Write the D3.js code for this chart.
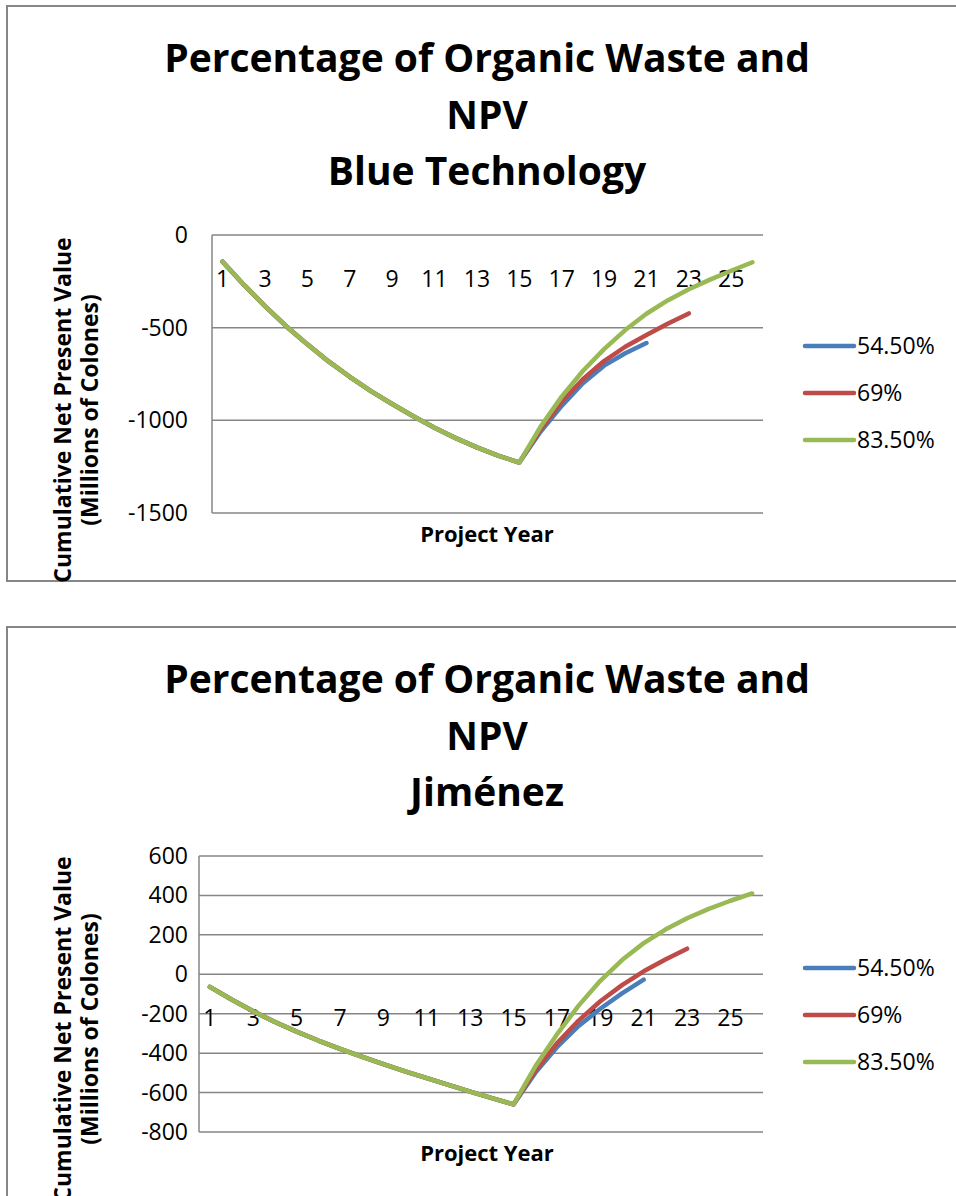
<!DOCTYPE html>
<html>
<head>
<meta charset="utf-8">
<script src="https://cdn.jsdelivr.net/npm/d3@7"></script>
<style>
  html, body { margin: 0; padding: 0; background: #fff; }
  svg { display: block; font-family: "Open Sans", Lato, sans-serif; }
</style>
</head>
<body>
<div id="chart"></div>
<script>
// categories (project years) and shown tick labels
const years = [1, 2, 3, 4, 5, 6, 7, 8, 9, 10, 11, 12, 13, 14, 15, 16, 17, 18, 19, 20, 21, 22, 23, 24, 25, 26];
const yearTicks = [1, 3, 5, 7, 9, 11, 13, 15, 17, 19, 21, 23, 25];
const seriesNames = ['54.50%', '69%', '83.50%'];

// Blue Technology (millions of colones)
const blue545 = [-144, -268, -384, -492, -590, -682, -765, -842, -912, -978, -1040, -1096, -1146, -1190, -1228,
  -1062, -922, -800, -705, -638, -583];
const blue69 = [-144, -268, -384, -492, -590, -682, -765, -842, -912, -978, -1040, -1096, -1146, -1190, -1228,
  -1050, -900, -778, -680, -603, -540, -479, -423];
const blue835 = [-144, -268, -384, -492, -590, -682, -765, -842, -912, -978, -1040, -1096, -1146, -1190, -1228,
  -1035, -872, -734, -616, -513, -425, -353, -293, -241, -193, -147];
const blueTicks = [0, -500, -1000, -1500];

// Jiménez (millions of colones)
const jim545 = [-64, -128, -188, -242, -291, -336, -378, -418, -456, -492, -527, -561, -595, -628, -660,
  -500, -370, -262, -175, -97, -27];
const jim69 = [-64, -128, -188, -242, -291, -336, -378, -418, -456, -492, -527, -561, -595, -628, -660,
  -490, -350, -235, -137, -55, 15, 75, 130];
const jim835 = [-64, -128, -188, -242, -291, -336, -378, -418, -456, -492, -527, -561, -595, -628, -660,
  -468, -305, -159, -33, 72, 158, 227, 284, 332, 373, 410];
const jimTicks = [600, 400, 200, 0, -200, -400, -600, -800];

const colors = ['#4a7ebb', '#be4b48', '#98b954'];
const gridColor = '#868686';

const svg = d3.select('#chart')
  .append('svg')
  .attr('width', 956)
  .attr('height', 1196);

function drawChart(top, cfg) {
  const g = svg.append('g').attr('transform', `translate(0,${top})`);

  // outer chart frame
  g.append('rect')
    .attr('x', 7).attr('y', 6)
    .attr('width', 1000).attr('height', cfg.frameH)
    .attr('fill', 'none')
    .attr('stroke', gridColor)
    .attr('stroke-width', 2);

  // title
  const title = g.append('text')
    .attr('text-anchor', 'middle')
    .attr('font-size', 39)
    .attr('font-weight', 'bold')
    .attr('fill', '#000');
  cfg.title.forEach((t, i) => {
    title.append('tspan').attr('x', 487).attr('y', 72 + i * 56.5).text(t);
  });

  const x = d3.scaleBand()
    .domain(years)
    .range([cfg.left, 763]);

  const y = d3.scaleLinear()
    .domain(cfg.domain)
    .range([cfg.bottom, cfg.top]);

  // horizontal gridlines
  g.append('g')
    .selectAll('line')
    .data(cfg.ticks)
    .join('line')
    .attr('x1', cfg.left).attr('x2', 763)
    .attr('y1', d => y(d)).attr('y2', d => y(d))
    .attr('stroke', gridColor)
    .attr('stroke-width', 1.5);

  // value axis line
  g.append('line')
    .attr('x1', cfg.left).attr('x2', cfg.left)
    .attr('y1', cfg.top).attr('y2', cfg.bottom)
    .attr('stroke', gridColor)
    .attr('stroke-width', 1.5);

  // y tick labels
  g.append('g')
    .selectAll('text')
    .data(cfg.ticks)
    .join('text')
    .attr('x', 188)
    .attr('y', d => y(d) + 8)
    .attr('text-anchor', 'end')
    .attr('font-size', 23)
    .text(d => d);

  // x tick labels (axis crosses at 0)
  g.append('g')
    .selectAll('text')
    .data(yearTicks)
    .join('text')
    .attr('x', d => x(d) + x.bandwidth() / 2)
    .attr('y', y(0) + 52)
    .attr('text-anchor', 'middle')
    .attr('font-size', 23)
    .text(d => d);

  // series lines
  const line = d3.line()
    .x((d, i) => x(years[i]) + x.bandwidth() / 2)
    .y(d => y(d));

  cfg.series.forEach((s, i) => {
    g.append('path')
      .datum(s)
      .attr('fill', 'none')
      .attr('stroke', colors[i])
      .attr('stroke-width', 4.5)
      .attr('stroke-linecap', 'round')
      .attr('stroke-linejoin', 'round')
      .attr('d', line);
  });

  // axis titles
  g.append('text')
    .attr('x', 487)
    .attr('y', cfg.bottom + 29)
    .attr('text-anchor', 'middle')
    .attr('font-size', 22)
    .attr('font-weight', 'bold')
    .text('Project Year');

  const ytitle = g.append('text')
    .attr('transform', `translate(0,${cfg.ytitleY}) rotate(-90)`)
    .attr('text-anchor', 'middle')
    .attr('font-size', 23)
    .attr('font-weight', 'bold');
  ytitle.append('tspan').attr('x', 0).attr('y', 71).text('Cumulative Net Present Value');
  ytitle.append('tspan').attr('x', 0).attr('y', 98).text('(Millions of Colones)');

  // legend
  const legend = g.append('g')
    .selectAll('g')
    .data(seriesNames)
    .join('g')
    .attr('transform', (d, i) => `translate(0,${cfg.legendY + i * 47})`);
  legend.append('line')
    .attr('x1', 805).attr('x2', 854)
    .attr('stroke', (d, i) => colors[i])
    .attr('stroke-width', 4.5)
    .attr('stroke-linecap', 'round');
  legend.append('text')
    .attr('x', 857)
    .attr('y', 8)
    .attr('font-size', 23)
    .text(d => d);
}

drawChart(0, {
  title: ['Percentage of Organic Waste and', 'NPV', 'Blue Technology'],
  frameH: 575,
  left: 212, top: 235, bottom: 513,
  domain: [-1500, 0],
  ticks: blueTicks,
  series: [blue545, blue69, blue835],
  ytitleY: 410,
  legendY: 346
});

drawChart(621, {
  title: ['Percentage of Organic Waste and', 'NPV', 'Jiménez'],
  frameH: 700,
  left: 199, top: 235, bottom: 511,
  domain: [-800, 600],
  ticks: jimTicks,
  series: [jim545, jim69, jim835],
  ytitleY: 408,
  legendY: 347
});
</script>
</body>
</html>
